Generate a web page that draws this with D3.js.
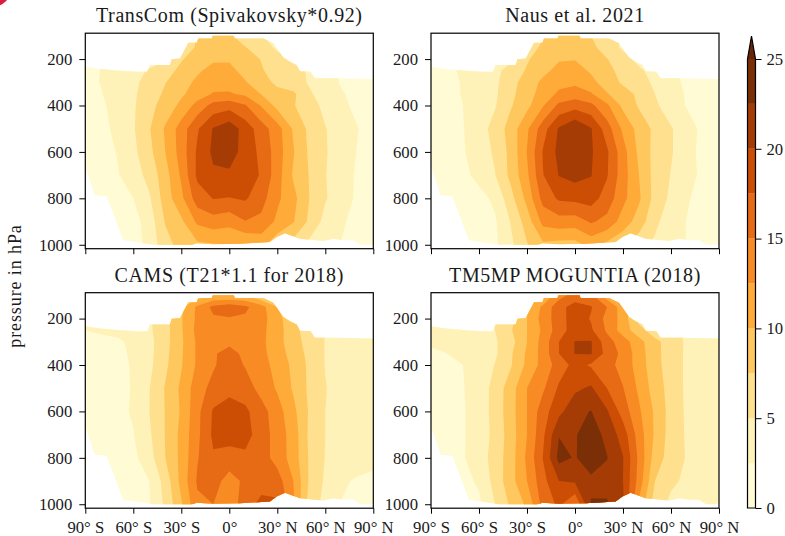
<!DOCTYPE html>
<html>
<head>
<meta charset="utf-8">
<title>OH zonal means</title>
<script src="https://cdn.jsdelivr.net/npm/d3@7"></script>
<style>
  html, body { margin: 0; padding: 0; background: #fff; }
  text { font-family: 'Liberation Serif', serif; fill: #1a1a1a; }
  .tick text { font-size: 16.7px; }
  .tick line, .frame { stroke: #000; }
</style>
</head>
<body>
<div id="chart"></div>
<script>
let latitudes = [-90, -80, -70, -60, -50, -40, -30, -20, -10, 0, 10, 20, 30, 40, 50, 60, 70, 80, 90]
let pressureLevels = [100, 150, 200, 250, 300, 350, 400, 500, 600, 700, 800, 900, 1000]

let pressureTicks = [200, 400, 600, 800, 1000]
let latTicks = [-90, -60, -30, 0, 30, 60, 90]
let latTickLabels = ['90° S', '60° S', '30° S', '0°', '30° N', '60° N', '90° N']
let barTicks = [0, 5, 10, 15, 20, 25]

let levels = [0, 2.5, 5, 7.5, 10, 12.5, 15, 17.5, 20, 22.5]
let bandColors = ['#fffbd5', '#fff2b8', '#fee08f', '#fec85e', '#feab3a', '#f88b24', '#e76a14', '#cb4e04', '#a53c05', '#7a2f06']
let overColor = '#662506'

// edge of the data area, same in all four panels
let topEdgeLat = [-90, -81.9, -68.3, -56.9, -51.3, -49.6, -37.1, -36, -30.8, -25.6, -20.4, -19.4, -11, -10, 2.5, 3.5, 21.3, 27.5, 33.8, 37.9, 42.1, 44.2, 50.8, 53.5, 67.1, 90]
let topEdgeP = [233, 242, 250, 255, 255, 226, 226, 201, 197, 130, 130, 111, 111, 93, 93, 111, 111, 132, 193, 212, 226, 252, 255, 283, 283, 286]
let bottomEdgeLat = [-90, -84, -76.7, -66.3, -49.6, -39.2, -26.7, -20.4, -10, 6.7, 25.4, 29.6, 34.8, 44.2, 50.4, 58.8, 65, 71.3, 77.5, 84.8, 90]
let bottomEdgeP = [665, 787, 791, 981, 998, 1016, 1010, 993, 998, 996, 988, 967, 950, 974, 978, 984, 974, 981, 981, 1013, 1016]

let transcom = [
  [2, 2, 2.2, 2.6, 3, 3.5, 5.5, 7.6, 8, 7.8, 6.5, 5.2, 4, 3, 2.5, 2, 1.8, 1.6, 1.5],
  [2, 2.1, 2.4, 2.8, 3.3, 4, 5.3, 8, 9, 8.8, 7.6, 6.2, 4.6, 3.5, 3, 2.4, 2, 1.8, 1.6],
  [2.1, 2.4, 2.8, 3.2, 3.8, 4.6, 7.3, 8.6, 9.6, 9.7, 8.5, 7.4, 5.8, 4.7, 3.9, 3, 2.2, 1.8, 1.5],
  [2, 2.55, 3.2, 4, 5.3, 6.6, 8.1, 9.6, 10.9, 10.7, 9.2, 7.7, 6.6, 5.6, 4.8, 3.3, 2.4, 1.8, 1.5],
  [1.9, 2.6, 3.6, 4.5, 5.8, 7.4, 9, 10.5, 11.5, 11.3, 10.2, 8.4, 7, 5.9, 4.8, 3.5, 2.3, 1.7, 1.4],
  [1.6, 2.4, 3.5, 4.7, 6, 8, 9.6, 11.2, 12.7, 12.8, 12, 9.9, 8.2, 8, 5.3, 4, 2.7, 1.9, 1.3],
  [1.3, 2.1, 3.4, 4.7, 6.7, 8.6, 10.6, 13.4, 15.9, 16.5, 15.2, 12.3, 9.2, 7.7, 6, 4.4, 3.1, 1.9, 1.2],
  [1, 1.9, 3, 4.75, 7.3, 10.3, 13.7, 17.2, 20.2, 21.6, 18.9, 16.2, 13.6, 9.7, 6.9, 5.1, 3.9, 2.6, 1.4],
  [0.9, 1.7, 2.6, 4.4, 6.8, 10, 13.6, 17.9, 20.5, 21.3, 18.9, 16.9, 13.8, 10.2, 7.1, 5.2, 3.8, 2.4, 1.2],
  [0.5, 1.1, 2.3, 3.8, 5.8, 9, 12.9, 18, 19.6, 19.5, 18.6, 17.3, 13.6, 9.7, 7.4, 5.1, 3.5, 2.2, 1.2],
  [0, 0.4, 1.2, 2.5, 4.7, 8.7, 11.9, 16.3, 17.6, 17.4, 17.8, 16, 13, 10.8, 7.5, 5.2, 3.7, 2.1, 1],
  [0, 0, 0.5, 1.6, 3.6, 7.7, 9.5, 13, 13.9, 13.3, 14.9, 14.4, 12, 10.2, 7, 4.2, 2.9, 1.6, 0.9],
  [0, 0, 0.3, 1.2, 3.4, 6.5, 8.5, 9.5, 9.8, 10, 10, 10.8, 8.2, 6.5, 4.3, 3.5, 2.4, 1.5, 0.8]
]

let naus = [
  [2, 2, 2.2, 2.6, 3, 4, 6, 7.3, 8.2, 8.4, 7.5, 6.2, 4.5, 3.3, 2.7, 2.2, 1.9, 1.7, 1.5],
  [2, 2.1, 2.4, 2.8, 3.3, 4.3, 6.3, 8, 9.3, 9.6, 8.2, 6.3, 4.6, 3.6, 3.1, 2.5, 2, 1.8, 1.6],
  [2, 2.2, 2.6, 3.2, 3.8, 4.6, 7.2, 8.8, 9.8, 9.9, 8.8, 7.6, 5.9, 4.3, 3.7, 2.9, 2.1, 1.8, 1.6],
  [1.8, 2.2, 2.7, 3.5, 4.4, 5.9, 7.8, 9.4, 10.7, 11, 9.7, 8.1, 6.8, 5.4, 4.2, 2.7, 2.2, 1.9, 1.6],
  [1.6, 2.1, 2.6, 3.6, 4.5, 6.6, 8.7, 10.5, 11.7, 12, 10.7, 8.8, 7.1, 5.9, 4.6, 3, 2.2, 1.9, 1.6],
  [1.6, 2, 2.6, 3.7, 4.6, 6.9, 9, 11, 13, 13.7, 12.8, 10.2, 8.5, 7, 5, 3.4, 2.3, 1.9, 1.6],
  [1.5, 1.9, 2.5, 3.8, 4.8, 7.3, 9.3, 12.3, 15.6, 16.5, 15.6, 13, 9.4, 7.2, 5.4, 3.8, 2.3, 1.8, 1.5],
  [1.2, 1.7, 2.4, 3.9, 5.9, 8.6, 12.1, 16.4, 20.3, 22.3, 20.2, 16.2, 12, 9.1, 6.9, 5.2, 3.6, 1.9, 1],
  [1, 1.6, 2.3, 3.6, 5.4, 8.3, 12.6, 17.7, 20.7, 22.3, 20.3, 17.9, 13.5, 9.4, 6.7, 5.2, 3.6, 1.6, 1],
  [0.5, 1, 1.9, 3.2, 4.9, 8.2, 12, 17.4, 20.1, 20.9, 20.1, 17.7, 13.6, 10, 6.6, 4.9, 3.5, 1.9, 1],
  [0, 0.3, 0.9, 1.7, 3, 6.7, 10.8, 15.9, 17.9, 18.2, 18.6, 16.4, 13.2, 10.4, 6.6, 4.5, 2.8, 1.4, 0.9],
  [0, 0, 0.1, 0.7, 2.2, 5.2, 8.7, 13.3, 14, 13.8, 15.3, 14.3, 11.4, 8.9, 5.5, 3.8, 2.4, 1.3, 0.8],
  [0, 0, 0, 0.5, 2, 4.5, 7.3, 9.5, 9.1, 9.1, 10.9, 9.3, 8, 6, 4.6, 3.5, 2.4, 1.2, 0.8]
]

let cams = [
  [2.6, 2.7, 2.9, 3.2, 3.6, 4.5, 6, 8.5, 10, 10, 10, 7.5, 5, 3.8, 3.4, 3.3, 3.3, 3.2, 3.2],
  [2.8, 3, 3.2, 3.6, 4.5, 7, 9.5, 13, 15.6, 16.5, 15.5, 13.5, 10, 6, 4.5, 4, 3.8, 3.6, 3.5],
  [3, 3.1, 3.3, 3.7, 4.6, 6.7, 9.8, 13, 14.7, 14.8, 14.6, 13.4, 11, 8, 5, 4, 3.8, 3.6, 3.5],
  [2.5, 2.8, 3, 3.5, 4.6, 6.6, 9.7, 13.3, 14.2, 14.6, 14.3, 13.2, 11, 8.5, 6, 5, 4, 3.7, 3.5],
  [1.8, 2, 2.2, 2.9, 4.3, 6.6, 9.6, 12.9, 14.6, 14.6, 14.2, 13.1, 10.9, 8.6, 6.5, 4.9, 3.9, 3.6, 3.5],
  [1.7, 2, 2.2, 2.7, 4.3, 6.8, 9.7, 12.9, 14.8, 15.6, 14.6, 13.2, 11.2, 9, 6.8, 4.9, 4, 3.6, 3.5],
  [1.6, 1.9, 2.2, 2.6, 4.4, 7, 9.8, 12.9, 14.7, 16.3, 14.8, 13.4, 11.7, 9.4, 7, 4.9, 4, 3.7, 3.5],
  [1.3, 1.7, 2.1, 2.6, 4.9, 7.7, 10.5, 13.9, 15.8, 17, 16.2, 14.1, 12.2, 9.7, 7, 5.1, 4.1, 3.8, 3.6],
  [1.1, 1.6, 2, 2.7, 5, 7.6, 10.3, 14.3, 17.8, 18.3, 18, 16, 13.6, 10.7, 7.2, 5, 4.2, 3.9, 3.7],
  [0.5, 1.2, 1.8, 2.4, 4.6, 7.6, 10.7, 14.4, 18, 18.6, 18.4, 16.3, 13.9, 11.4, 7, 5, 4.2, 3.9, 3.7],
  [0, 0.3, 1, 1.9, 4, 7.5, 10.7, 14.8, 17.2, 16.4, 17, 16.2, 14, 11.4, 7.2, 4.9, 4, 3.8, 3.7],
  [0, 0, 0.3, 1.3, 2.5, 6, 10.8, 15.3, 16, 14, 15.5, 16.6, 16.2, 12.5, 7.2, 4.6, 2.9, 2.2, 1.5],
  [0, 0, 0.1, 0.8, 2.3, 5.5, 9.7, 14.5, 15, 13.3, 16.5, 18.1, 18, 13, 6.5, 4.2, 2.4, 1.8, 1.2]
]

let tm5mp = [
  [3, 3.1, 3.3, 3.6, 4, 5, 7, 10, 14, 16, 15.5, 11, 6, 5, 4.5, 4.2, 4, 4, 4],
  [3, 3.2, 3.5, 4, 5, 7, 10, 13, 16.7, 18.5, 17.7, 15, 11, 8, 6, 5.5, 5, 5, 5],
  [3.1, 3.3, 3.6, 4.1, 5.1, 6.8, 10, 13.5, 16.4, 18.8, 17.3, 14.2, 11.6, 6.5, 5.5, 5.2, 5.1, 5, 5],
  [3.1, 3.3, 3.6, 4.2, 5, 7.3, 10, 13, 16.4, 18.7, 17.9, 14.6, 11.3, 8.5, 6, 5.6, 4.7, 4.2, 4],
  [2.6, 2.7, 2.9, 3.6, 4.7, 6.6, 10, 13.5, 17.5, 20.1, 20.2, 16, 13.7, 10.9, 8.2, 6.3, 4.6, 3.9, 3.5],
  [2.4, 2.5, 2.6, 3.2, 4.6, 7.2, 10.4, 13.5, 17.5, 20.1, 20.2, 16.6, 14.3, 11.2, 8.3, 6.2, 4.6, 3.9, 3.5],
  [2.2, 2.3, 2.5, 3.3, 5.1, 7.3, 10.6, 13.4, 16.2, 18.3, 17.2, 15.8, 14.2, 11.3, 8.4, 6.2, 4.6, 3.9, 3.5],
  [1.8, 2.1, 2.4, 3.5, 5.9, 8.9, 12.5, 14.6, 17.9, 19.5, 20.4, 17.5, 15.1, 12, 8.8, 6.5, 4.5, 3.8, 3.5],
  [1.7, 2, 2.3, 3.6, 5.9, 9, 12.5, 16.4, 19.3, 21.8, 22.6, 20.3, 16.4, 12.9, 9.6, 6.5, 4.6, 3.8, 3.5],
  [0.8, 1.6, 2.3, 3.6, 5.7, 8.8, 12.5, 17, 22.4, 22.3, 23.8, 21.8, 18.9, 13.8, 9.6, 6.4, 4.7, 4, 3.6],
  [1, 1.7, 2.3, 3.8, 6, 8.9, 13, 17.6, 23.3, 22.3, 24, 22.6, 20.1, 14.4, 8.8, 6.4, 4.8, 4.2, 3.8],
  [0, 0.3, 1.7, 2.9, 5.9, 9.1, 12.5, 16.7, 20, 20.4, 21.9, 21.6, 20, 14, 7.5, 5.4, 4.6, 4.4, 4],
  [0, 0, 0.4, 2, 5, 8, 10.5, 16, 18, 15.2, 22.7, 22.8, 20.5, 12, 6.2, 4.5, 3.8, 3.5, 2.2]
]

let panelTitles = ['TransCom (Spivakovsky*0.92)', 'Naus et al. 2021', 'CAMS (T21*1.1 for 2018)', 'TM5MP MOGUNTIA (2018)']
let panelValues = [transcom, naus, cams, tm5mp]

let width = 785
let height = 536

let svg = d3
  .select('#chart')
  .append('svg')
  .attr('width', width)
  .attr('height', height)
  .style('display', 'block')

// little red corner left over in the reference
svg
  .append('circle')
  .attr('cx', -5)
  .attr('cy', -9)
  .attr('r', 15)
  .attr('fill', '#d81e45')

let panelW = 288
let panelH = 215.5
let columns = [85.3, 431]
let rows = [33.2, 292.7]

// pressure axis runs a bit past the plotted levels at both ends
let xPositionScale = d3.scaleLinear().domain([-90, 90]).range([0, panelW])
let yPositionScale = d3.scaleLinear().domain([88.5, 1017]).range([0, panelH])

// d3.contours puts the value of cell i at i + 0.5, so shift before mapping to lat / pressure
let latOfIndex = d3.scaleLinear().domain(d3.range(latitudes.length)).range(latitudes).clamp(true)
let pressureOfIndex = d3.scaleLinear().domain(d3.range(pressureLevels.length)).range(pressureLevels).clamp(true)

let contourPath = d3.geoPath(
  d3.geoTransform({
    point: function(x, y) {
      this.stream.point(
        xPositionScale(latOfIndex(x - 0.5)),
        yPositionScale(pressureOfIndex(y - 0.5))
      )
    }
  })
)

let contours = d3
  .contours()
  .size([latitudes.length, pressureLevels.length])
  .thresholds(levels)

let edgeLine = d3
  .line()
  .x(d => xPositionScale(d[0]))
  .y(d => yPositionScale(d[1]))

let edgePoints = d3
  .zip(topEdgeLat, topEdgeP)
  .concat(d3.zip(bottomEdgeLat, bottomEdgeP).reverse())

panelValues.forEach((values, i) => {
  let col = i % 2
  let row = Math.floor(i / 2)

  let panel = svg
    .append('g')
    .attr('transform', 'translate(' + columns[col] + ',' + rows[row] + ')')

  panel
    .append('clipPath')
    .attr('id', 'edge-' + i)
    .append('path')
    .attr('d', edgeLine(edgePoints) + 'Z')

  panel
    .append('g')
    .attr('clip-path', 'url(#edge-' + i + ')')
    .selectAll('path')
    .data(contours(values.flat()))
    .enter()
    .append('path')
    .attr('d', contourPath)
    .attr('fill', (d, j) => bandColors[j])

  let xAxis = d3
    .axisBottom(xPositionScale)
    .tickValues(latTicks)
    .tickSize(5.5)
    .tickPadding(7)
    .tickFormat((d, j) => (row === 1 ? latTickLabels[j] : ''))
  panel
    .append('g')
    .attr('class', 'axis x-axis')
    .attr('transform', 'translate(0,' + panelH + ')')
    .call(xAxis)
    .call(g => g.select('.domain').remove())

  let yAxis = d3
    .axisLeft(yPositionScale)
    .tickValues(pressureTicks)
    .tickSize(6)
    .tickPadding(7)
    .tickFormat(d3.format('d'))
  panel
    .append('g')
    .attr('class', 'axis y-axis')
    .call(yAxis)
    .call(g => g.select('.domain').remove())

  panel
    .append('rect')
    .attr('class', 'frame')
    .attr('width', panelW)
    .attr('height', panelH)
    .attr('fill', 'none')
    .attr('stroke-width', 1.2)

  panel
    .append('text')
    .attr('x', panelW / 2)
    .attr('y', -11)
    .attr('text-anchor', 'middle')
    .attr('font-size', 20)
    .attr('letter-spacing', 0.6)
    .text(panelTitles[i])
})

svg
  .append('text')
  .attr('transform', 'translate(21,286) rotate(-90)')
  .attr('text-anchor', 'middle')
  .attr('font-size', 18)
  .attr('letter-spacing', 0.9)
  .text('pressure in hPa')

// colorbar
let barScale = d3.scaleLinear().domain([0, 25]).range([508, 59])
let barX = 747.5
let barW = 8

let bar = svg.append('g')

bar
  .selectAll('rect')
  .data(levels)
  .enter()
  .append('rect')
  .attr('x', barX)
  .attr('width', barW)
  .attr('y', d => barScale(d + 2.5))
  .attr('height', barScale(0) - barScale(2.5))
  .attr('fill', (d, i) => bandColors[i])

let barTop = barScale(25)
bar
  .append('path')
  .attr('d', d3.line()([[barX, barTop], [barX + barW / 2, 36], [barX + barW, barTop]]) + 'Z')
  .attr('fill', overColor)

bar
  .append('path')
  .attr(
    'd',
    d3.line()([
      [barX, barScale(0)],
      [barX, barTop],
      [barX + barW / 2, 36],
      [barX + barW, barTop],
      [barX + barW, barScale(0)]
    ]) + 'Z'
  )
  .attr('fill', 'none')
  .attr('stroke', '#000')
  .attr('stroke-width', 1.2)

svg
  .append('g')
  .attr('class', 'axis bar-axis')
  .attr('transform', 'translate(' + (barX + barW) + ',0)')
  .call(d3.axisRight(barScale).tickValues(barTicks).tickSize(6).tickPadding(5).tickFormat(d3.format('d')))
  .call(g => g.select('.domain').remove())

svg.selectAll('.axis text').style('font-family', "'Liberation Serif', serif")
</script>
</body>
</html>
